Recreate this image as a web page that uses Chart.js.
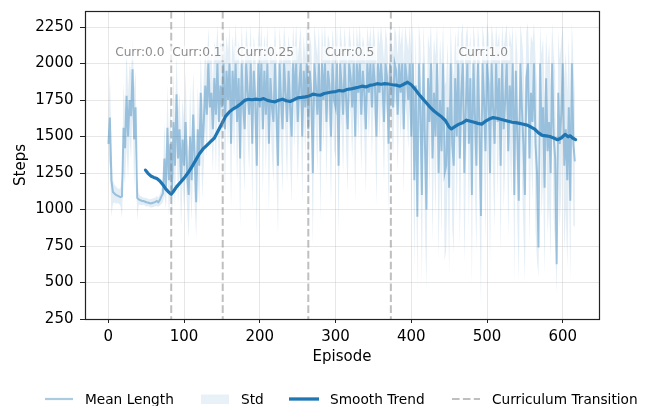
<!DOCTYPE html>
<html>
<head>
<meta charset="utf-8">
<script src="https://cdn.jsdelivr.net/npm/chart.js@4/dist/chart.umd.min.js"></script>
<style>
  html, body { margin: 0; padding: 0; background: #fff; }
  #wrap { position: relative; width: 656px; height: 406px; font-family: 'DejaVu Sans', sans-serif; }
  #c { position: absolute; left: 0; top: 0; }
  .lg { position: absolute; top: 390px; height: 18px; display: flex; align-items: center; font-size: 13.7px; color: #000; white-space: nowrap; }
  .lg svg { display: block; }
</style>
</head>
<body>
<div id="wrap">
  <canvas id="c" width="656" height="406"></canvas>
  <div class="lg" style="left:45px"><svg width="28" height="18"><line x1="0" y1="9" x2="28" y2="9" stroke="rgba(31,119,180,0.38)" stroke-width="2.2"/></svg><span style="margin-left:12px">Mean Length</span></div>
  <div class="lg" style="left:201px"><svg width="28" height="18"><rect x="0" y="4.5" width="28" height="9.5" fill="rgba(31,119,180,0.1)"/></svg><span style="margin-left:12px">Std</span></div>
  <div class="lg" style="left:289px"><svg width="30" height="18"><line x1="0" y1="9" x2="30" y2="9" stroke="#1f77b4" stroke-width="3.3"/></svg><span style="margin-left:11px">Smooth Trend</span></div>
  <div class="lg" style="left:452px"><svg width="28" height="18"><line x1="0" y1="9" x2="28" y2="9" stroke="rgba(128,128,128,0.5)" stroke-width="2" stroke-dasharray="7.6 3.3"/></svg><span style="margin-left:12px">Curriculum Transition</span></div>
</div>
<script>
// ---------------- data ----------------
const episodeStep = 2; // one sample every 2 episodes, starting at episode 0
const meanLength = [
  1450, 1630, 1200, 1120, 1110, 1100, 1095, 1090, 1085, 1090,
  1560, 1420, 1780, 1500, 1750, 1640, 1960, 1480, 1700, 1080,
  1070, 1065, 1060, 1058, 1055, 1050, 1048, 1045, 1042, 1045,
  1048, 1052, 1058, 1050, 1065, 1090, 1110, 1350, 1150, 1560,
  1200, 1450, 1120, 1600, 1300, 1790, 1350, 1550, 1180, 1480,
  1300, 1600, 1250, 1100, 1500, 1200, 1650, 1350, 1050, 1550,
  1300, 1800, 1400, 1600, 1850, 1650, 2000, 1700, 1800, 1550,
  1900, 1650, 2000, 1600, 1850, 1700, 2000, 1550, 1950, 1750,
  2000, 1450, 1950, 1700, 2000, 1600, 1900, 1350, 2000, 1700,
  1550, 2000, 1800, 1650, 2000, 1450, 1950, 1750, 1300, 2000,
  1700, 2000, 1550, 1950, 1650, 2000, 1450, 1900, 1700, 1600,
  2000, 1650, 1300, 2000, 1750, 1550, 2000, 1800, 1600, 1950,
  1700, 1500, 2000, 1750, 2000, 1600, 1850, 2000, 1500, 1950,
  1700, 2000, 1550, 1950, 1800, 1250, 2000, 1850, 1650, 2000,
  1400, 2000, 1750, 2000, 1600, 1950, 1850, 1500, 2000, 1750,
  1700, 2000, 1300, 2000, 1850, 1650, 2000, 1750, 1550, 2000,
  1900, 1700, 2000, 1500, 2000, 1800, 2000, 1650, 1950, 1800,
  1550, 2000, 1800, 2000, 1700, 2000, 1850, 1500, 2000, 1800,
  2000, 1850, 1600, 2000, 1900, 1450, 2000, 1850, 1700, 2000,
  1950, 1650, 2000, 1800, 2000, 1550, 2000, 1900, 1750, 2000,
  1500, 2000, 1200, 1850, 950, 2000, 1700, 1100, 2000, 1450,
  1000, 1900, 1600, 2000, 1350, 1800, 1500, 2000, 1250, 1750,
  1400, 2000, 1250, 1300, 1700, 1150, 2000, 1450, 1300, 1900,
  1500, 2000, 1350, 1800, 2000, 1250, 1700, 2000, 1450, 1900,
  1100, 2000, 1650, 1300, 2000, 1550, 955, 2000, 1750, 1400,
  2000, 1850, 1250, 2000, 1700, 1450, 2000, 1600, 1900, 1300,
  2000, 1550, 1750, 2000, 1400, 1850, 1600, 2000, 1100, 1950,
  1500, 1060, 2000, 1700, 1450, 1100, 1900, 2000, 1350, 1800,
  1600, 2000, 1450, 1250, 740, 2000, 1500, 1700, 1150, 1900,
  1400, 1600, 1250, 2000, 1500, 1350, 625, 1800, 1450, 1650,
  2000, 1300, 1550, 1200, 1700, 1060, 2000, 1450, 1330
];
const stdLength = [
  220, 300, 250, 80, 60, 60, 50, 50, 60, 150,
  300, 250, 350, 300, 250, 300, 200, 350, 250, 150,
  40, 30, 30, 25, 25, 30, 25, 25, 30, 30,
  30, 30, 35, 30, 40, 50, 60, 250, 150, 300,
  250, 300, 200, 350, 280, 300, 320, 250, 300, 280,
  300, 350, 250, 300, 350, 280, 300, 320, 250, 300,
  280, 300, 320, 300, 280, 300, 250, 300, 280, 300,
  260, 400, 270, 420, 300, 350, 250, 450, 240, 330,
  260, 450, 240, 350, 280, 420, 260, 480, 270, 340,
  430, 250, 320, 400, 270, 460, 240, 330, 480, 260,
  350, 270, 440, 250, 400, 260, 470, 240, 340, 420,
  270, 400, 480, 250, 330, 440, 260, 320, 420, 250,
  350, 460, 260, 330, 270, 420, 300, 250, 470, 240,
  340, 260, 450, 250, 320, 500, 270, 300, 400, 250,
  480, 260, 330, 270, 420, 250, 300, 460, 240, 340,
  350, 260, 480, 270, 300, 400, 250, 330, 440, 260,
  250, 350, 270, 460, 250, 320, 270, 400, 240, 320,
  440, 260, 320, 250, 350, 270, 300, 470, 250, 330,
  260, 300, 420, 250, 260, 470, 270, 300, 350, 250,
  250, 400, 270, 320, 250, 450, 260, 270, 340, 260,
  550, 280, 600, 350, 500, 270, 450, 600, 260, 550,
  550, 300, 500, 270, 580, 380, 550, 260, 600, 420,
  580, 270, 600, 580, 450, 600, 260, 560, 600, 320,
  560, 270, 600, 400, 280, 620, 480, 260, 580, 320,
  620, 270, 500, 600, 260, 550, 600, 270, 420, 600,
  280, 350, 620, 270, 480, 580, 260, 520, 320, 600,
  270, 550, 450, 270, 600, 380, 520, 260, 600, 290,
  560, 550, 270, 480, 580, 600, 320, 280, 600, 400,
  540, 280, 580, 600, 200, 260, 560, 480, 600, 320,
  580, 540, 600, 280, 560, 600, 200, 420, 580, 500,
  270, 600, 540, 600, 480, 550, 280, 560, 450
];
const trendEpisodes = [
  49, 52, 56, 60, 64, 68, 72, 76, 80, 83, 86, 90, 95, 100, 105, 110, 115, 120, 125, 130,
  135, 140, 145, 150, 155, 160, 165, 170, 175, 180, 185, 190, 195, 200, 205, 210, 215, 220, 225, 230,
  235, 240, 245, 250, 255, 260, 265, 270, 275, 280, 285, 290, 295, 300, 305, 310, 315, 320, 325, 330,
  335, 340, 345, 350, 355, 360, 365, 370, 375, 380, 385, 390, 395, 400, 405, 410, 415, 420, 425, 430,
  435, 440, 445, 450, 453, 458, 463, 468, 473, 478, 483, 488, 493, 498, 503, 508, 513, 518, 523, 528,
  533, 538, 543, 548, 553, 558, 563, 568, 573, 578, 583, 588, 593, 598, 603, 607, 610, 613, 617
];
const trendValues = [
  1270, 1250, 1230, 1220, 1212, 1195, 1170, 1140, 1118, 1105, 1125, 1155, 1185, 1215, 1250, 1290, 1335, 1380, 1415, 1440,
  1465, 1490, 1540, 1590, 1640, 1670, 1690, 1705, 1725, 1748, 1755, 1752, 1756, 1752, 1760, 1748, 1742, 1738, 1748, 1756,
  1745, 1740, 1752, 1765, 1768, 1772, 1778, 1790, 1786, 1783, 1795, 1800, 1805, 1808, 1815, 1812, 1822, 1826, 1832, 1838,
  1845, 1840, 1850, 1855, 1862, 1858, 1862, 1860, 1855, 1852, 1845, 1858, 1872, 1855, 1825, 1790, 1760, 1730, 1700, 1675,
  1655, 1635, 1610, 1565, 1552, 1570, 1585, 1595, 1612, 1605, 1598, 1590, 1585, 1605, 1620, 1630, 1625, 1618, 1612, 1605,
  1598, 1595, 1590, 1584, 1578, 1565, 1550, 1525, 1508, 1505, 1500, 1490, 1478, 1490, 1515, 1498, 1505, 1490, 1479
];
const transitions = [83, 151, 264, 373];
const stageNames = ['Curr:0.0', 'Curr:0.1', 'Curr:0.25', 'Curr:0.5', 'Curr:1.0'];
const xTicks = [0, 100, 200, 300, 400, 500, 600];
const yTicks = [250, 500, 750, 1000, 1250, 1500, 1750, 2000, 2250];

// ---------------- build ----------------
const FONT = "'DejaVu Sans'";
const episodes = meanLength.map((_, i) => i * episodeStep);
const lastEpisode = Math.max(episodes[episodes.length - 1], trendEpisodes[trendEpisodes.length - 1]);
const meanPts = meanLength.map((v, i) => ({ x: episodes[i], y: v }));
const upperPts = meanLength.map((v, i) => ({ x: episodes[i], y: v + stdLength[i] }));
const lowerPts = meanLength.map((v, i) => ({ x: episodes[i], y: v - stdLength[i] }));
const trendPts = trendValues.map((v, i) => ({ x: trendEpisodes[i], y: v }));
const stageBounds = [0, ...transitions, lastEpisode];

const framePlugin = {
  id: 'frame',
  afterDraw(chart) {
    const { ctx, chartArea: a } = chart;
    ctx.save();
    ctx.strokeStyle = '#222';
    ctx.lineWidth = 1.2;
    ctx.strokeRect(Math.round(a.left) + 0.5, Math.round(a.top) + 0.5, Math.round(a.right - a.left), Math.round(a.bottom - a.top));
    ctx.restore();
  }
};

const curriculumPlugin = {
  id: 'curriculum',
  afterDatasetsDraw(chart) {
    const { ctx, chartArea: a, scales } = chart;
    const xs = scales.x, ys = scales.y;
    ctx.save();
    ctx.beginPath();
    ctx.rect(a.left, a.top, a.right - a.left, a.bottom - a.top);
    ctx.clip();
    ctx.strokeStyle = 'rgba(128,128,128,0.5)';
    ctx.lineWidth = 2;
    ctx.setLineDash([7.6, 3.3]);
    transitions.forEach(t => {
      const px = xs.getPixelForValue(t);
      ctx.beginPath();
      ctx.moveTo(px, a.top);
      ctx.lineTo(px, a.bottom);
      ctx.stroke();
    });
    ctx.setLineDash([]);
    ctx.font = "12.2px " + FONT;
    ctx.textAlign = 'center';
    ctx.textBaseline = 'middle';
    const ly = ys.getPixelForValue(2070);
    stageNames.forEach((name, i) => {
      const mid = (stageBounds[i] + stageBounds[i + 1]) / 2;
      const px = xs.getPixelForValue(mid);
      const w = ctx.measureText(name).width;
      ctx.fillStyle = 'rgba(255,255,255,0.7)';
      ctx.fillRect(px - w / 2 - 2.5, ly - 7, w + 5, 14);
      ctx.fillStyle = 'rgba(110,110,110,0.8)';
      ctx.fillText(name, px, ly);
    });
    ctx.restore();
  }
};

new Chart(document.getElementById('c'), {
  type: 'line',
  data: {
    datasets: [
      { label: 'Std upper', data: upperPts, borderWidth: 0, pointRadius: 0, fill: '+1', backgroundColor: 'rgba(31,119,180,0.13)', borderColor: 'rgba(0,0,0,0)', tension: 0 },
      { label: 'Std lower', data: lowerPts, borderWidth: 0, pointRadius: 0, fill: false, borderColor: 'rgba(0,0,0,0)', tension: 0 },
      { label: 'Mean Length', data: meanPts, borderColor: 'rgba(31,119,180,0.38)', borderWidth: 2, pointRadius: 0, fill: false, tension: 0 },
      { label: 'Smooth Trend', data: trendPts, borderColor: '#1f77b4', borderWidth: 3.2, pointRadius: 0, fill: false, tension: 0, borderJoinStyle: 'round', borderCapStyle: 'round' }
    ]
  },
  options: {
    responsive: false,
    animation: false,
    devicePixelRatio: 1,
    parsing: false,
    normalized: true,
    layout: { padding: { left: 0, right: 57, top: 11, bottom: 39 } },
    plugins: { legend: { display: false }, tooltip: { enabled: false } },
    scales: {
      x: {
        type: 'linear',
        min: -30.85,
        max: 647.85,
        afterBuildTicks: s => { s.ticks = xTicks.map(v => ({ value: v })); },
        afterFit: s => { s.height = 48; s.paddingLeft = 0; s.paddingRight = 0; },
        grid: { color: 'rgba(176,176,176,0.3)', lineWidth: 1, tickColor: '#222', tickLength: 4, tickWidth: 1 },
        border: { display: false },
        ticks: { font: { family: FONT, size: 15 }, color: '#000', padding: 5, maxRotation: 0, autoSkip: false, callback: v => String(v) },
        title: { display: true, text: 'Episode', font: { family: FONT, size: 15 }, color: '#000', padding: { top: 0, bottom: 0.5 } }
      },
      y: {
        type: 'linear',
        min: 250,
        max: 2360,
        afterBuildTicks: s => { s.ticks = yTicks.map(v => ({ value: v })); },
        afterFit: s => { s.width = 85; s.paddingTop = 0; s.paddingBottom = 0; },
        grid: { color: 'rgba(176,176,176,0.3)', lineWidth: 1, tickColor: '#222', tickLength: 5, tickWidth: 1 },
        border: { display: false },
        ticks: { font: { family: FONT, size: 15 }, color: '#000', padding: 6.5, autoSkip: false, callback: v => String(v) },
        title: { display: true, text: 'Steps', font: { family: FONT, size: 15 }, color: '#000', padding: { top: 12.5, bottom: 0 } }
      }
    }
  },
  plugins: [curriculumPlugin, framePlugin]
});
</script>
</body>
</html>
